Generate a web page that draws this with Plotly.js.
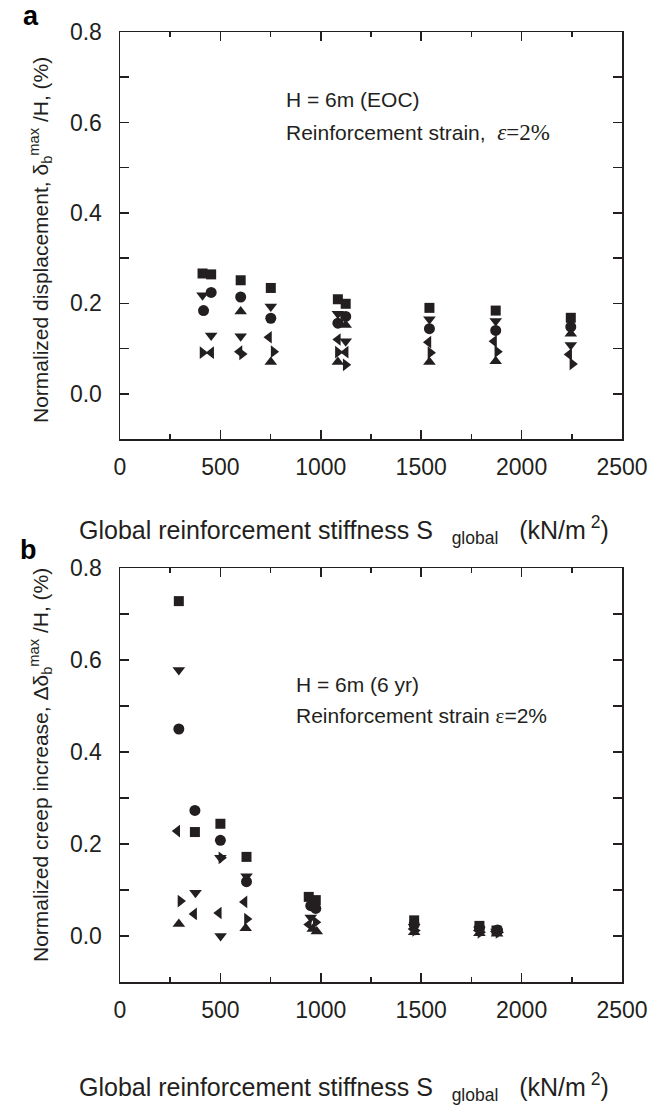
<!DOCTYPE html>
<html><head><meta charset="utf-8">
<script src="https://cdn.plot.ly/plotly-3.0.1.min.js"></script>
<style>html,body{margin:0;padding:0;background:#fff}</style>
</head><body><div id="chart" style="width:666px;height:1105px"></div>
<script>
// ---------- Panel a data (EOC) ----------
const aSquareX = [411, 454, 601, 751, 1085, 1124, 1541, 1871, 2245];
const aSquareY = [0.266, 0.264, 0.251, 0.234, 0.209, 0.199, 0.190, 0.184, 0.168];
const aCircleX = [454, 416, 601, 751, 1124, 1085, 1541, 1871, 2245];
const aCircleY = [0.224, 0.184, 0.214, 0.167, 0.171, 0.156, 0.144, 0.140, 0.148];
const aUpX = [601, 751, 1124, 1085, 1541, 1871, 2245];
const aUpY = [0.182, 0.070, 0.152, 0.070, 0.070, 0.072, 0.133];
const aDownX = [411, 454, 601, 751, 1085, 1124, 1541, 1871, 2245];
const aDownY = [0.218, 0.129, 0.127, 0.193, 0.177, 0.116, 0.165, 0.161, 0.108];
const aLeftX = [454, 595, 742, 1085, 1124, 1536, 1863, 2237];
const aLeftY = [0.091, 0.093, 0.125, 0.120, 0.092, 0.114, 0.116, 0.087];
const aRightX = [411, 608, 765, 1085, 1124, 1546, 1879, 2253];
const aRightY = [0.091, 0.088, 0.093, 0.092, 0.064, 0.091, 0.093, 0.066];

// ---------- Panel b data (6 yr) ----------
const bSquareX = [293, 373, 500, 630, 940, 975, 1465, 1790, 1875];
const bSquareY = [0.728, 0.226, 0.244, 0.172, 0.085, 0.078, 0.034, 0.022, 0.012];
const bCircleX = [293, 373, 500, 630, 950, 975, 1465, 1790, 1880];
const bCircleY = [0.450, 0.273, 0.208, 0.118, 0.066, 0.060, 0.025, 0.018, 0.013];
const bDownX = [293, 376, 500, 501, 630, 950, 1465, 1790, 1875];
const bDownY = [0.578, 0.094, 0.170, 0.000, 0.130, 0.040, 0.020, 0.014, 0.010];
const bLeftX = [285, 369, 492, 620, 940, 1460, 1785, 1870];
const bLeftY = [0.228, 0.048, 0.050, 0.074, 0.025, 0.015, 0.012, 0.010];
const bRightX = [301, 505, 632, 975, 1470, 1795, 1885];
const bRightY = [0.076, 0.170, 0.037, 0.030, 0.012, 0.008, 0.008];
const bUpX = [293, 626, 960, 980, 1465, 1790, 1878];
const bUpY = [0.026, 0.017, 0.015, 0.010, 0.008, 0.006, 0.005];

// ---------- Text ----------
const xTitle = "Global reinforcement stiffness S  <sub> global</sub>   (kN/m<sup> 2</sup>)";
const yTitleA = "Normalized displacement, δ<sub>b</sub><sup>max</sup> /H, (%)";
const yTitleB = "Normalized creep increase, Δδ<sub>b</sub><sup>max</sup> /H, (%)";
const noteA1 = "H = 6m (EOC)";
const noteA2 = "Reinforcement strain,  <span style=\"font-family:'Liberation Serif',Times,serif;font-size:23px\"><i>ε</i>=2%</span>";
const noteB1 = "H = 6m (6 yr)";
const noteB2 = "Reinforcement strain <span style=\"font-family:'Liberation Serif',Times,serif\">ε</span>=2%";
const xTicks = [0, 500, 1000, 1500, 2000, 2500];
const yTicks = [0.0, 0.2, 0.4, 0.6, 0.8];

const INK = '#231f20';
const FONT = "'Liberation Sans', Arial, sans-serif";
const W = 666, H = 1105;
const px = v => v / W;
const py = v => 1 - v / H;

function series(x, y, sym, xa, ya) {
  return {x: x, y: y, type: 'scatter', mode: 'markers', xaxis: xa, yaxis: ya,
    marker: {symbol: sym, size: sym === 'circle' ? 11 : (sym === 'square' ? 10 : 11), color: INK,
      line: {width: 0}}, showlegend: false, hoverinfo: 'x+y'};
}

const data = [
  series(aSquareX, aSquareY, 'square', 'x', 'y'),
  series(aCircleX, aCircleY, 'circle', 'x', 'y'),
  series(aUpX, aUpY, 'triangle-up', 'x', 'y'),
  series(aDownX, aDownY, 'triangle-down', 'x', 'y'),
  series(aLeftX, aLeftY, 'triangle-left', 'x', 'y'),
  series(aRightX, aRightY, 'triangle-right', 'x', 'y'),
  series(bSquareX, bSquareY, 'square', 'x2', 'y2'),
  series(bCircleX, bCircleY, 'circle', 'x2', 'y2'),
  series(bDownX, bDownY, 'triangle-down', 'x2', 'y2'),
  series(bLeftX, bLeftY, 'triangle-left', 'x2', 'y2'),
  series(bRightX, bRightY, 'triangle-right', 'x2', 'y2'),
  series(bUpX, bUpY, 'triangle-up', 'x2', 'y2')
];

const tickFont = {family: FONT, size: 23, color: INK};
function xAxis(anchor) {
  return {domain: [px(120), px(622)], range: [0, 2500], tickvals: xTicks, ticktext: xTicks.map(String),
    ticks: 'inside', ticklen: 9, tickwidth: 1.5, tickcolor: INK, mirror: 'ticks',
    showline: true, linecolor: INK, linewidth: 1.5, showgrid: false, zeroline: false,
    tickfont: tickFont, anchor: anchor, ticklabelstandoff: 7,
    minor: {dtick: 250, tick0: 0, ticks: 'inside', ticklen: 5, tickwidth: 1.5, tickcolor: INK, showgrid: false}};
}
function yAxis(top, bottom, anchor) {
  return {domain: [py(bottom), py(top)], range: [-0.1, 0.8], tickvals: yTicks, ticktext: yTicks.map(v => v.toFixed(1)),
    ticks: 'inside', ticklen: 9, tickwidth: 1.5, tickcolor: INK, mirror: 'ticks',
    showline: true, linecolor: INK, linewidth: 1.5, showgrid: false, zeroline: false,
    tickfont: tickFont, anchor: anchor, ticklabelstandoff: 12,
    minor: {dtick: 0.1, tick0: 0, ticks: 'inside', ticklen: 9, tickwidth: 1.5, tickcolor: INK, showgrid: false}};
}

const txt = (text, x, y, size, opts) => Object.assign({text: text, xref: 'paper', yref: 'paper', x: px(x), y: py(y),
  xanchor: 'center', yanchor: 'middle', showarrow: false,
  font: {family: FONT, size: size, color: INK}}, opts || {});

const annotations = [
  txt('<b>a</b>', 31, 16, 27, {font: {family: FONT, size: 27, color: '#000'}}),
  txt('<b>b</b>', 29, 550, 27, {font: {family: FONT, size: 27, color: '#000'}}),
  txt(noteA1, 284, 99, 21, {xanchor: 'left'}),
  txt(noteA2, 284, 132, 21, {xanchor: 'left'}),
  txt(noteB1, 294, 684, 21, {xanchor: 'left'}),
  txt(noteB2, 294, 716, 21, {xanchor: 'left'}),
  txt(xTitle, 344, 530, 25),
  txt(xTitle, 344, 1087, 25),
  txt(yTitleA, 40, 240, 21, {textangle: -90}),
  txt(yTitleB, 40, 765, 21, {textangle: -90})
];

const layout = {
  width: W, height: H, margin: {l: 0, r: 0, t: 0, b: 0},
  paper_bgcolor: '#fff', plot_bgcolor: '#fff', showlegend: false,
  xaxis: xAxis('y'), yaxis: yAxis(32, 439, 'x'),
  xaxis2: xAxis('y2'), yaxis2: yAxis(568, 982, 'x2'),
  annotations: annotations
};

Plotly.newPlot('chart', data, layout, {displayModeBar: false, staticPlot: true});
</script></body></html>
